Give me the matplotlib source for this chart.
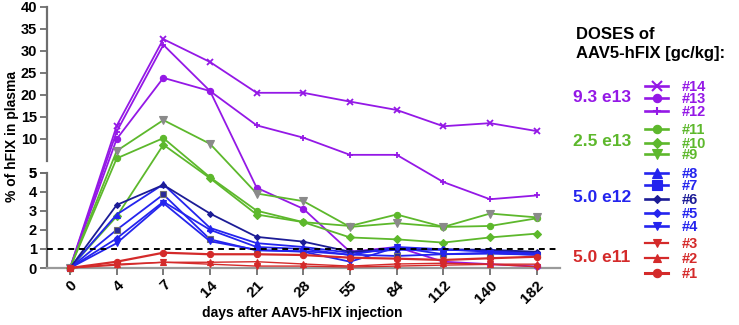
import numpy as np
import matplotlib
matplotlib.use("Agg")
import matplotlib.pyplot as plt

plt.rcParams['font.family'] = ['Liberation Sans', 'DejaVu Sans']
plt.rcParams['font.weight'] = 'bold'

# days after injection (categorical, equally spaced)
days = ['0', '4', '7', '14', '21', '28', '55', '84', '112', '140', '182']

# % of hFIX in plasma
# 9.3 e13
a14 = [0, 13.0, 32.7, 27.5, 20.5, 20.5, 18.5, 16.6, 12.9, 13.6, 11.8]
a13 = [0, 10.0, 23.9, 20.9, 4.2, 3.1, 0.85, 1.1, 0.33, 0.2, 0.08]
a12 = [0, 11.7, 31.4, 20.9, 13.1, 10.3, 6.4, 6.4, 4.5, 3.6, 3.8]
# 2.5 e13
a11 = [0, 5.6, 10.2, 4.75, 3.0, 2.4, 2.2, 2.8, 2.15, 2.2, 2.6]
a10 = [0, 2.7, 8.7, 4.7, 2.8, 2.4, 1.6, 1.5, 1.33, 1.6, 1.8]
a9 = [0, 7.3, 14.3, 8.9, 3.9, 3.5, 2.15, 2.35, 2.15, 2.85, 2.65]
# 5.0 e12
a8 = [0, 2.8, 4.38, 2.1, 1.3, 1.1, 0.8, 0.95, 0.95, 0.9, 0.8]
a7 = [0, 2.0, 3.85, 1.5, 0.92, 0.88, 0.7, 0.63, 0.72, 0.75, 0.7]
a6 = [0, 3.3, 4.35, 2.85, 1.63, 1.38, 0.85, 1.0, 0.98, 0.95, 0.85]
a5 = [0, 1.55, 3.47, 2.0, 1.1, 1.0, 0.68, 1.1, 0.98, 0.85, 0.75]
a4 = [0, 1.3, 3.4, 1.4, 0.95, 0.85, 0.33, 1.08, 0.72, 0.8, 0.68]
# 5.0 e11
a3 = [0, 0.15, 0.3, 0.2, 0.1, 0.1, 0.05, 0.1, 0.15, 0.19, 0.07]
a2 = [0, 0.2, 0.3, 0.3, 0.33, 0.21, 0.1, 0.21, 0.25, 0.2, 0.2]
a1 = [0, 0.33, 0.8, 0.72, 0.72, 0.68, 0.54, 0.49, 0.42, 0.51, 0.59]

dose_labels = ['9.3 e13', '2.5 e13', '5.0 e12', '5.0 e11']

purple = '#9418e6'
green = '#5db82c'
blue = '#2424ee'
navy = '#1c1c96'
red = '#d42a2a'
gray = '#8a8a8a'

# broken y axis: lower part 0-5, upper part 5-40 (pixel units)
LOW = 19.1
UP = 4.4
GAP = 11.5


def seg(v):
    v = np.asarray(v, float)
    return np.where(v <= 5, v * LOW, 5 * LOW + GAP + (v - 5) * UP)


# (name, data, line colour, marker, size, face, edge, legend colour, lw)
series = [
    ('#14', a14, purple, 'x', 5, purple, purple, purple, 1.3),
    ('#13', a13, purple, 'o', 4.5, purple, purple, purple, 1.3),
    ('#12', a12, purple, '+', 4, purple, purple, purple, 1.3),
    ('#11', a11, green, 'o', 4.5, green, green, green, 1.3),
    ('#10', a10, green, 'D', 4, green, green, green, 1.3),
    ('#9', a9, green, 'v', 6, gray, gray, green, 1.3),
    ('#8', a8, blue, '^', 5, blue, blue, blue, 1.3),
    ('#7', a7, blue, 's', 5, '#2a2a9a', '#707070', blue, 1.3),
    ('#6', a6, navy, 'D', 3, navy, navy, navy, 1.3),
    ('#5', a5, blue, 'D', 3, blue, blue, blue, 1.3),
    ('#4', a4, blue, 'v', 4, blue, blue, blue, 1.3),
    ('#3', a3, red, 'v', 4, red, red, red, 1.0),
    ('#2', a2, red, '^', 4, red, red, red, 1.0),
    ('#1', a1, red, 'o', 4.5, red, red, red, 1.6),
]

W, H = 739, 325
fig = plt.figure(figsize=(W / 100, H / 100), dpi=100)
x0, x1, ybot, ytop = 46.7, 560, 268, 7
ax = fig.add_axes([x0 / W, (H - ybot) / H, (x1 - x0) / W, (ybot - ytop) / H])

x = np.arange(len(days))
for name, vals, lc, mk, ms, mfc, mec, _, lw in series:
    ax.plot(x, seg(vals), color=lc, lw=lw, marker=mk, ms=ms, mfc=mfc, mec=mec,
            mew=1.3 if mk in ('x', '+') else 0.8, clip_on=False, zorder=3)

# 1 % threshold
ax.plot([-0.5, 10.5], seg([1, 1]), color='black', lw=1.4, ls=(0, (3, 2.5)), zorder=4)

ax.set_xlim(-0.5, 10.5)
ax.set_ylim(0, float(seg(40)))
ax.set_xticks(x)
ax.set_xticklabels(days, rotation=45, ha='right', rotation_mode='anchor', fontsize=11)

low_ticks = [0, 1, 2, 3, 4, 5]
up_ticks = [5, 10, 15, 20, 25, 30, 35, 40]
ax.set_yticks(list(seg(low_ticks)) + list(seg(up_ticks)))
ax.set_yticklabels([str(t) for t in low_ticks + up_ticks], fontsize=10.5)

axis_col = '#6e6e6e'
for s in ['top', 'right', 'left']:
    ax.spines[s].set_visible(False)
ax.spines['bottom'].set_color('#9a9a9a')
ax.spines['bottom'].set_linewidth(1.6)
ax.tick_params(axis='both', colors=axis_col, labelcolor='black', width=1.3, length=5, pad=2)
# broken left spine
ax.plot([-0.5, -0.5], seg([0, 5]), color=axis_col, lw=1.6, clip_on=False, zorder=2)
ax.plot([-0.5, -0.5], [float(seg(5.0001)), float(seg(40))], color=axis_col, lw=1.6,
        clip_on=False, zorder=2)

fig.text(12 / W, 1 - 136 / H, '% of hFIX in plasma', rotation=90, ha='center', va='center',
         fontsize=10)
fig.text(302 / W, 1 - 313 / H, 'days after AAV5-hFIX injection', ha='center', va='center',
         fontsize=10)

# legend (pixel coordinates)
lax = fig.add_axes([0, 0, 1, 1])
lax.set_xlim(0, W)
lax.set_ylim(H, 0)
lax.axis('off')
lax.text(576, 27, 'DOSES of\nAAV5-hFIX [gc/kg]:', va='top', ha='left', fontsize=12,
         linespacing=1.3)

rows = [86, 98.3, 111, 129.3, 142.7, 154, 172.7, 184.7, 198.7, 212.7, 226, 243.3, 258.3, 273.3]
for (name, vals, lc, mk, ms, mfc, mec, legc, lw), yy in zip(series, rows):
    lax.plot([645, 668], [yy, yy], color=legc, lw=lw + 0.6, marker=None)
    lax.plot([656.5], [yy], color=legc, marker=mk, ms=ms + 1.5, mew=1.5 if mk in ('x', '+') else 0.8)
    lax.text(682, yy + 1, name, color=legc, ha='left', va='center', fontsize=10.5)

group_y = [97, 142, 197, 257]
group_c = [purple, green, blue, red]
for lab, yy, c in zip(dose_labels, group_y, group_c):
    lax.text(573, yy, lab, color=c, ha='left', va='center', fontsize=12.5)

fig.savefig('out.png', dpi=100)
